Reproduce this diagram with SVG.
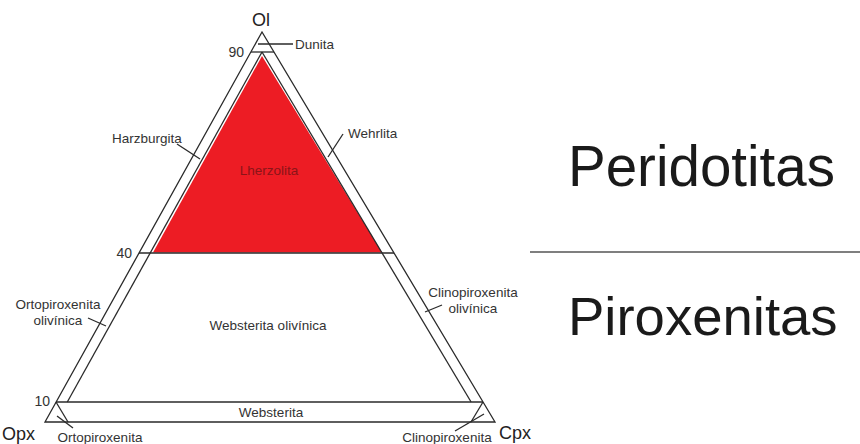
<svg xmlns="http://www.w3.org/2000/svg" width="860" height="444" viewBox="0 0 860 444">
<style>
.ln{stroke:#2a2a2a;stroke-width:1.3;fill:none}
.lb{font-family:"Liberation Sans",Arial,sans-serif;font-size:13.5px;fill:#333}
.tk{font-family:"Liberation Sans",Arial,sans-serif;font-size:14px;fill:#333}
.ax{font-family:"Liberation Sans",Arial,sans-serif;font-size:18px;fill:#222}
.big{font-family:"Liberation Sans",Arial,sans-serif;fill:#1a1a1a}
</style>
<rect width="860" height="444" fill="#fff"/>
<g id="lherzolita-field">
<polygon points="262,56 153,252.5 382,252.5" fill="#ed1c24"/>
</g>
<g id="frame">
<polygon class="ln" points="262,32 45,422 495,422"/>
<line class="ln" x1="251" y1="52" x2="274" y2="52"/>
<line class="ln" x1="139" y1="253" x2="394" y2="253"/>
<line class="ln" x1="56" y1="402" x2="483" y2="402"/>
<line class="ln" x1="262" y1="52" x2="67.3" y2="402"/>
<line class="ln" x1="262" y1="52" x2="471.1" y2="402"/>
<line class="ln" x1="56" y1="402" x2="68" y2="422"/>
<line class="ln" x1="483" y1="402" x2="471" y2="422"/>
</g>
<g id="connectors">
<line class="ln" x1="258" y1="44" x2="293" y2="44"/>
<line class="ln" x1="177" y1="144" x2="200" y2="159"/>
<line class="ln" x1="343" y1="134" x2="328" y2="157"/>
<line class="ln" x1="88" y1="318" x2="106" y2="326"/>
<line class="ln" x1="425" y1="312" x2="442" y2="305"/>
<line class="ln" x1="57" y1="416" x2="73" y2="428"/>
<line class="ln" x1="455" y1="431" x2="484" y2="414"/>
<line x1="530" y1="252" x2="860" y2="252" stroke="#555" stroke-width="1.5"/>
</g>
<g id="vertex-ol"><text class="ax" x="261" y="26" text-anchor="middle">Ol</text></g>
<g id="vertex-opx"><text class="ax" x="2" y="440">Opx</text></g>
<g id="vertex-cpx"><text class="ax" x="499" y="439">Cpx</text></g>
<g id="tick-90"><text class="tk" x="244" y="57" text-anchor="end">90</text></g>
<g id="tick-40"><text class="tk" x="132" y="258" text-anchor="end">40</text></g>
<g id="tick-10"><text class="tk" x="50" y="406" text-anchor="end">10</text></g>
<g id="dunita"><text class="lb" x="295" y="49">Dunita</text></g>
<g id="harzburgita"><text class="lb" x="112" y="143">Harzburgita</text></g>
<g id="wehrlita"><text class="lb" x="348" y="138">Wehrlita</text></g>
<g id="lherzolita"><text class="lb" x="269" y="175" text-anchor="middle" style="fill:#8a1418">Lherzolita</text></g>
<g id="ortopiroxenita-olivinica"><text class="lb" x="58" y="309" text-anchor="middle">Ortopiroxenita</text><text class="lb" x="58" y="325" text-anchor="middle">olivínica</text></g>
<g id="clinopiroxenita-olivinica"><text class="lb" x="473" y="297" text-anchor="middle">Clinopiroxenita</text><text class="lb" x="473" y="313" text-anchor="middle">olivínica</text></g>
<g id="websterita-olivinica"><text class="lb" x="268" y="330" text-anchor="middle">Websterita olivínica</text></g>
<g id="websterita"><text class="lb" x="271" y="417" text-anchor="middle">Websterita</text></g>
<g id="ortopiroxenita"><text class="lb" x="100" y="442" text-anchor="middle">Ortopiroxenita</text></g>
<g id="clinopiroxenita"><text class="lb" x="447" y="442" text-anchor="middle">Clinopiroxenita</text></g>
<g id="peridotitas"><text class="big" x="568" y="186" style="font-size:56.5px">Peridotitas</text></g>
<g id="piroxenitas"><text class="big" x="568" y="335" style="font-size:54.5px">Piroxenitas</text></g>
</svg>
